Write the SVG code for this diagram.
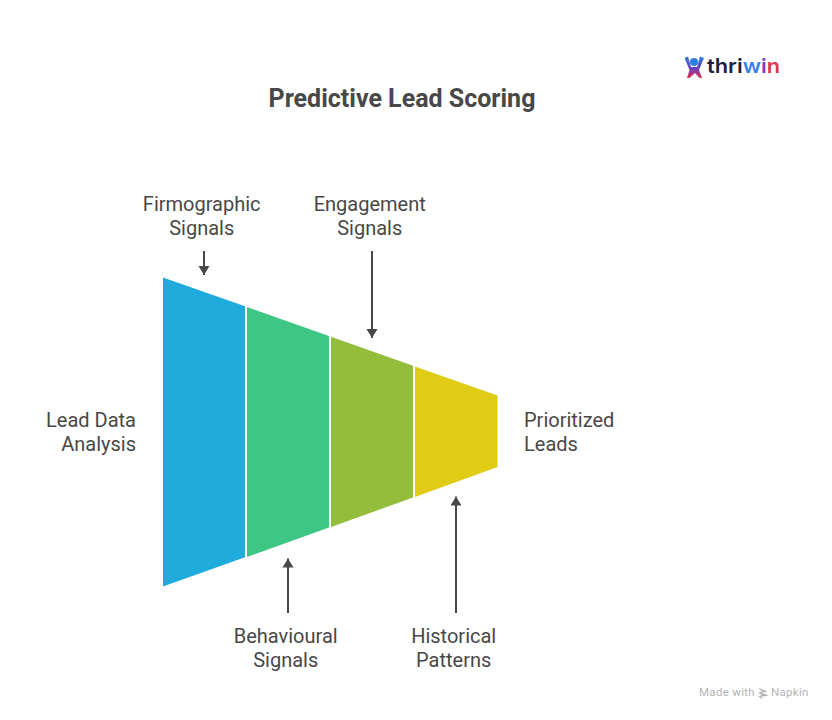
<svg xmlns="http://www.w3.org/2000/svg" width="832" height="720" viewBox="0 0 832 720">
<defs>
<style>
text{font-family:Roboto,"Liberation Sans",sans-serif;fill:#484848}
.l{font-size:20px}
.s{stroke:#484848;stroke-width:2;fill:none}
</style>
<linearGradient id="lg" x1="0" y1="0" x2="0" y2="1"><stop offset="0" stop-color="#2a7fe0"/><stop offset="0.55" stop-color="#6a3fc0"/><stop offset="1" stop-color="#e0304f"/></linearGradient>
<marker id="ah" markerWidth="10" markerHeight="12" refX="9" refY="6" orient="auto" markerUnits="userSpaceOnUse"><path d="M0 .5L9 6L0 11.500Z" fill="#484848"/></marker>
</defs>
<rect width="832" height="720" fill="#fff"/>
<text id="title" x="402" y="107" text-anchor="middle" font-size="25" font-weight="700">Predictive Lead Scoring</text>
<g id="logo">
<circle cx="694" cy="62" r="4" fill="#2a7fe0"/>
<path d="M684.500 58L688 56.500L691 67H697L700 56.500L704 58L699 70L702 78H699.500L695 73L689.500 78H687L689.500 70Z" fill="url(#lg)"/>
<text x="707" y="73" font-size="20" font-weight="600" style="font-family:Inter,Roboto,sans-serif;fill:#1d1f3f" textLength="73" lengthAdjust="spacingAndGlyphs">thri<tspan style="fill:#3b82e8">w</tspan><tspan style="fill:#7a3fc0">i</tspan><tspan style="fill:#e0364f">n</tspan></text>
</g>
<g id="connectors">
<path class="s" d="M204 251V275" marker-end="url(#ah)"/>
<path class="s" d="M372 251V338" marker-end="url(#ah)"/>
<path class="s" d="M288 613V558.500" marker-end="url(#ah)"/>
<path class="s" d="M456 613V496.500" marker-end="url(#ah)"/>
</g>
<g id="stage-1"><polygon points="163,277.500 245,306.300 245,557.200 163,586.500" fill="#1facdc"/></g>
<g id="stage-2"><polygon points="247,307 329,336 329,527.500 247,557" fill="#3ec784"/></g>
<g id="stage-3"><polygon points="331,336.700 413,365.700 413,497.500 331,527" fill="#93bd3a"/></g>
<g id="stage-4"><polygon points="415,366.500 497.500,395.500 497.500,467 415,497" fill="#e0cc15"/></g>
<g id="label-firmographic"><text class="l" x="201.700" y="211" text-anchor="middle">Firmographic</text><text class="l" x="201.700" y="235" text-anchor="middle">Signals</text></g>
<g id="label-engagement"><text class="l" x="369.700" y="211" text-anchor="middle">Engagement</text><text class="l" x="369.700" y="235" text-anchor="middle">Signals</text></g>
<g id="label-input"><text class="l" x="136" y="427" text-anchor="end">Lead Data</text><text class="l" x="136" y="451" text-anchor="end">Analysis</text></g>
<g id="label-output"><text class="l" x="524" y="427">Prioritized</text><text class="l" x="524" y="451">Leads</text></g>
<g id="label-behavioural"><text class="l" x="285.700" y="643" text-anchor="middle">Behavioural</text><text class="l" x="285.700" y="667" text-anchor="middle">Signals</text></g>
<g id="label-historical"><text class="l" x="453.700" y="643" text-anchor="middle">Historical</text><text class="l" x="453.700" y="667" text-anchor="middle">Patterns</text></g>
<g id="watermark">
<text x="699" y="696" font-size="11.500" style="fill:#b4b4b4;letter-spacing:.3px">Made with</text>
<path d="M758 687.500L768 692L761 692.500L769 695.500L761 696.500L763 699.500L758 696.500L762 695L758 692.500L762 691.500Z" fill="#b4b4b4"/>
<text x="771" y="696" font-size="11.500" style="fill:#b4b4b4;letter-spacing:.3px">Napkin</text>
</g>
</svg>
